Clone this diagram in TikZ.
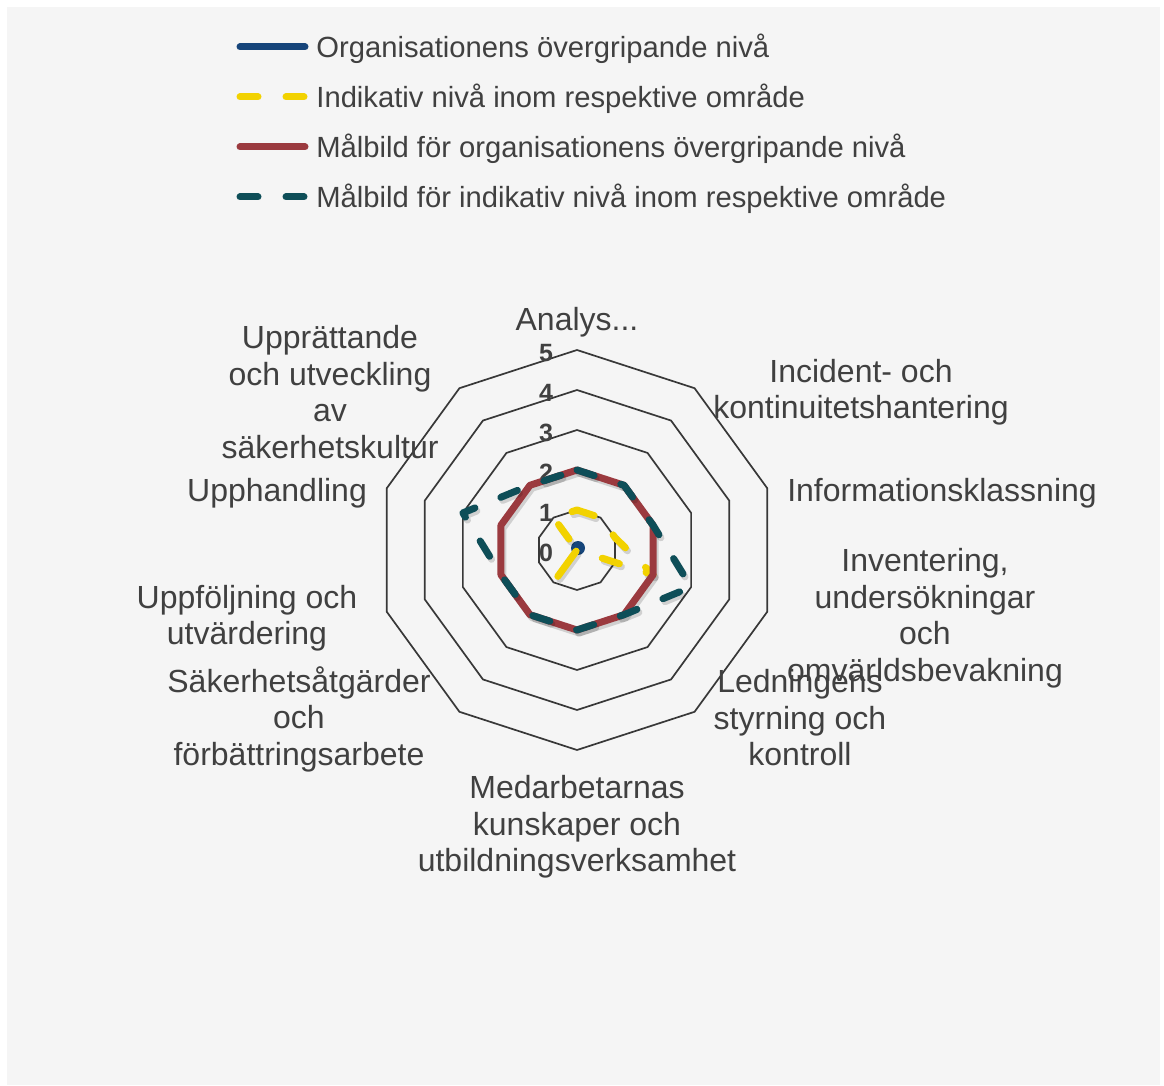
\documentclass[tikz,border=0pt]{standalone}
\usepackage{fontspec}
\setmainfont{Liberation Sans}
\usetikzlibrary{positioning}
\definecolor{chartbg}{HTML}{F5F5F5}
\definecolor{txtgray}{HTML}{404040}
\definecolor{gridgray}{HTML}{383838}
\definecolor{orgblue}{HTML}{16457A}
\definecolor{indyellow}{HTML}{F2D200}
\definecolor{malred}{HTML}{9B3A3F}
\definecolor{malteal}{HTML}{0E4E58}
\tikzset{
  serie/.style={line width=3.5pt, line cap=round, line join=round},
  dashserie/.style={serie, dash pattern=on 9pt off 14pt},
  shadowline/.style={draw=black, opacity=0.15, transform canvas={shift={(1pt,-1.5pt)}}},
  axislabel/.style={text=txtgray, align=center, font=\fontsize{16}{18.25}\selectfont, inner sep=0pt},
  legendlabel/.style={text=txtgray, anchor=west, font=\fontsize{14.6}{16}\selectfont, inner sep=0pt},
  ticklabel/.style={text=txtgray, font=\fontsize{12.5}{14}\selectfont\bfseries, inner sep=0pt},
  gridline/.style={draw=gridgray, line width=0.85pt}
}
\begin{document}
\begin{tikzpicture}[x=0.5pt, y=-0.5pt]
\useasboundingbox (0,0) rectangle (1164,1086);
\fill[chartbg] (7,7) rectangle (1160,1085);

\foreach[count=\i] \s/\c/\t in {serie/orgblue/Organisationens övergripande nivå, dashserie/indyellow/Indikativ nivå inom respektive område, serie/malred/Målbild för organisationens övergripande nivå, dashserie/malteal/Målbild för indikativ nivå inom respektive område}
{
    \coordinate (k\i) at (240,{47+50*(\i-1)});
    \coordinate (kk\i) at (305,{47+50*(\i-1)});
    \draw[\s, draw=\c] (k\i) -- (kk\i);
    \node[legendlabel] (leg\i) at (316,{49+50*(\i-1)}) {\t};
}

\begin{scope}[shift={(577,550)}]
    \foreach \r in {1,...,5}
    {
        \foreach \k in {0,...,9}
            \coordinate (g\r-\k) at (36*\k-90:40*\r);
        \draw[gridline] (g\r-0) -- (g\r-1) -- (g\r-2) -- (g\r-3) -- (g\r-4) -- (g\r-5) -- (g\r-6) -- (g\r-7) -- (g\r-8) -- (g\r-9) -- cycle;
    }
    \foreach \v in {0,...,5}
        \node[ticklabel] (t\v) at (-31,3-40*\v) {\v};

    \foreach[count=\k from 0] \v in {1,1,1,2,0,0,1,0,0,1}
        \coordinate (ind\k) at (36*\k-90:40*\v);
    \foreach[count=\k from 0] \v in {2,2,2,2,2,2,2,2,2,2}
        \coordinate (mal\k) at (36*\k-90:40*\v);
    \foreach[count=\k from 0] \v in {2,2,2,3,2,2,2,2,3,2}
        \coordinate (malind\k) at (36*\k-90:40*\v);

    \node[circle, fill=orgblue, inner sep=0pt, minimum size=7pt] (org) at (1,-2) {};
    \draw[dashserie, shadowline] (ind0) -- (ind1) -- (ind2) -- (ind3) -- (ind4) -- (ind5) -- (ind6) -- (ind7) -- (ind8) -- (ind9) -- cycle;
    \draw[dashserie, draw=indyellow] (ind0) -- (ind1) -- (ind2) -- (ind3) -- (ind4) -- (ind5) -- (ind6) -- (ind7) -- (ind8) -- (ind9) -- cycle;
    \draw[serie, shadowline] (mal0) -- (mal1) -- (mal2) -- (mal3) -- (mal4) -- (mal5) -- (mal6) -- (mal7) -- (mal8) -- (mal9) -- cycle;
    \draw[serie, draw=malred] (mal0) -- (mal1) -- (mal2) -- (mal3) -- (mal4) -- (mal5) -- (mal6) -- (mal7) -- (mal8) -- (mal9) -- cycle;
    \draw[dashserie, shadowline] (malind0) -- (malind1) -- (malind2) -- (malind3) -- (malind4) -- (malind5) -- (malind6) -- (malind7) -- (malind8) -- (malind9) -- cycle;
    \draw[dashserie, draw=malteal] (malind0) -- (malind1) -- (malind2) -- (malind3) -- (malind4) -- (malind5) -- (malind6) -- (malind7) -- (malind8) -- (malind9) -- cycle;
\end{scope}

\node[axislabel] (analys) at (577,322) {Analys...};
\node[axislabel] (incident) at (861,392) {Incident- och\\kontinuitetshantering};
\node[axislabel] (info) at (942,493) {Informationsklassning};
\node[axislabel] (inventering) at (925,618) {Inventering,\\undersökningar\\och\\omvärldsbevakning};
\node[axislabel] (ledning) at (800,718) {Ledningens\\styrning och\\kontroll};
\node[axislabel] (medarb) at (577,827) {Medarbetarnas\\kunskaper och\\utbildningsverksamhet};
\node[axislabel] (sakerhet) at (299,719) {Säkerhetsåtgärder\\och\\förbättringsarbete};
\node[axislabel] (uppfoljning) at (247,618) {Uppföljning och\\utvärdering};
\node[axislabel] (upphandling) at (277,493) {Upphandling};
\node[axislabel] (upprattande) at (330,392) {Upprättande\\och utveckling\\av\\säkerhetskultur};
\end{tikzpicture}
\end{document}
